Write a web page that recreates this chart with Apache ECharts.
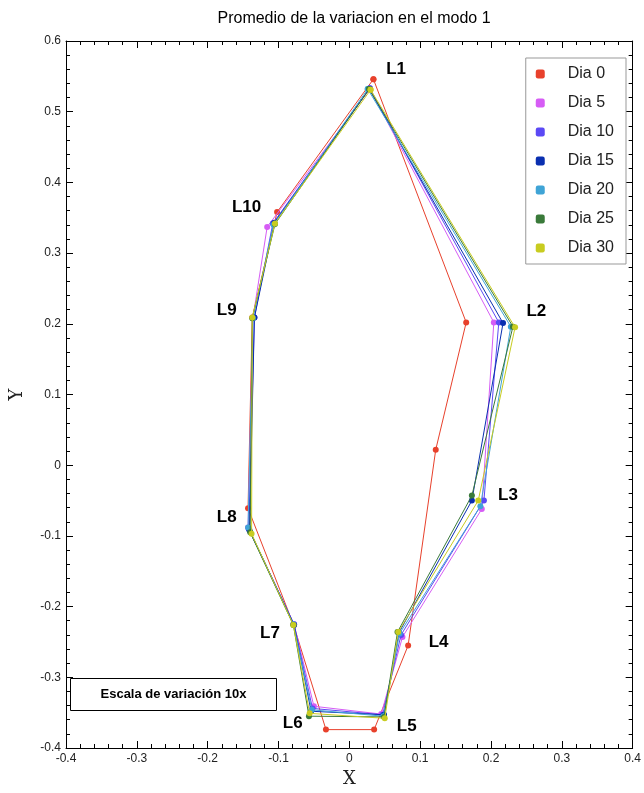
<!DOCTYPE html>
<html>
<head>
<meta charset="utf-8">
<script src="https://cdn.jsdelivr.net/npm/echarts@6/dist/echarts.min.js"></script>
<style>
html,body{margin:0;padding:0;background:#fff;}
#main{width:644px;height:793px;}
</style>
</head>
<body>
<div id="main"></div>
<script>
// puntos L1..L10 de cada dia (x, y)
var nombres = ['Dia 0', 'Dia 5', 'Dia 10', 'Dia 15', 'Dia 20', 'Dia 25', 'Dia 30'];
var colores = ['#e8412c', '#d65cf5', '#5b49f5', '#0a2fb0', '#3fa4d6', '#3a7a3a', '#c8cc20'];

var dia0  = [[0.034,0.546],[0.165,0.202],[0.122,0.022],[0.083,-0.255],[0.035,-0.374],[-0.033,-0.374],[-0.079,-0.225],[-0.143,-0.061],[-0.137,0.209],[-0.102,0.358]];
var dia5  = [[0.029,0.532],[0.204,0.202],[0.187,-0.062],[0.075,-0.243],[0.045,-0.352],[-0.050,-0.341],[-0.078,-0.225],[-0.143,-0.088],[-0.136,0.209],[-0.116,0.337]];
var dia10 = [[0.029,0.533],[0.211,0.202],[0.190,-0.050],[0.073,-0.240],[0.047,-0.353],[-0.052,-0.344],[-0.078,-0.225],[-0.142,-0.090],[-0.134,0.209],[-0.108,0.342]];
var dia15 = [[0.028,0.532],[0.217,0.201],[0.173,-0.050],[0.070,-0.237],[0.049,-0.353],[-0.054,-0.348],[-0.078,-0.226],[-0.141,-0.092],[-0.134,0.209],[-0.106,0.343]];
var dia20 = [[0.026,0.532],[0.228,0.196],[0.185,-0.058],[0.071,-0.238],[0.048,-0.355],[-0.053,-0.346],[-0.079,-0.225],[-0.143,-0.088],[-0.136,0.208],[-0.107,0.340]];
var dia25 = [[0.028,0.532],[0.231,0.196],[0.173,-0.043],[0.068,-0.236],[0.049,-0.356],[-0.057,-0.355],[-0.079,-0.226],[-0.140,-0.095],[-0.137,0.208],[-0.105,0.341]];
var dia30 = [[0.030,0.531],[0.234,0.195],[0.182,-0.050],[0.069,-0.236],[0.050,-0.358],[-0.056,-0.351],[-0.079,-0.226],[-0.138,-0.097],[-0.137,0.209],[-0.105,0.342]];
var dias = [dia0, dia5, dia10, dia15, dia20, dia25, dia30];

// etiquetas de los puntos
var etiquetas = ['L1','L2','L3','L4','L5','L6','L7','L8','L9','L10'];
var etiquetaPos = [[0.066,0.560],[0.264,0.217],[0.224,-0.043],[0.126,-0.250],[0.081,-0.370],[-0.080,-0.365],[-0.112,-0.238],[-0.173,-0.074],[-0.173,0.219],[-0.145,0.365]];

var myChart = echarts.init(document.getElementById('main'));

var ejeX = {
    type: 'value', min: -0.4, max: 0.4, interval: 0.1,
    axisLine: {show: true, onZero: false, lineStyle: {color: '#000', width: 1}},
    axisTick: {show: true, inside: true, length: 7, lineStyle: {color: '#000'}},
    minorTick: {show: true, splitNumber: 5, length: 4, lineStyle: {color: '#000'}},
    splitLine: {show: false},
    axisLabel: {color: '#222', fontSize: 12, fontFamily: 'Liberation Sans Narrow, Arial, sans-serif', margin: 5,
        formatter: function (v) { return Math.round(v * 10) / 10 + ''; }}
};
var ejeY = {
    type: 'value', min: -0.4, max: 0.6, interval: 0.1,
    axisLine: {show: true, onZero: false, lineStyle: {color: '#000', width: 1}},
    axisTick: {show: true, inside: true, length: 7, lineStyle: {color: '#000'}},
    minorTick: {show: true, splitNumber: 5, length: 4, lineStyle: {color: '#000'}},
    splitLine: {show: false},
    axisLabel: {color: '#222', fontSize: 12, fontFamily: 'Liberation Sans Narrow, Arial, sans-serif', margin: 5,
        formatter: function (v) { return Math.round(v * 10) / 10 + ''; }}
};

var series = [];
for (var i = 0; i < dias.length; i++) {
    var d = dias[i].slice();
    d.push(dias[i][0]); // cerrar el poligono
    series.push({
        name: nombres[i],
        type: 'line',
        data: d,
        symbol: 'circle',
        symbolSize: 6,
        showAllSymbol: true,
        itemStyle: {color: colores[i]},
        lineStyle: {color: colores[i], width: 1},
        z: 2 + i,
        animation: false
    });
}
series.push({
    type: 'scatter',
    symbolSize: 0,
    data: etiquetaPos.map(function (p, k) { return {value: p, name: etiquetas[k]}; }),
    label: {show: true, position: 'inside', formatter: '{b}', color: '#000',
        fontSize: 17, fontWeight: 'bold', fontFamily: 'Liberation Sans, Arial, sans-serif'},
    itemStyle: {opacity: 1},
    silent: true,
    z: 20,
    animation: false
});

var option = {
    backgroundColor: '#fff',
    title: {
        text: 'Promedio de la variacion en el modo 1',
        left: 349, top: 6, textAlign: 'center',
        textStyle: {fontSize: 16, fontWeight: 'normal', color: '#000', fontFamily: 'Liberation Sans, Arial, sans-serif'}
    },
    legend: {
        data: nombres,
        orient: 'vertical',
        right: 18, top: 58,
        itemWidth: 9, itemHeight: 9, itemGap: 13,
        icon: 'roundRect',
        padding: [8, 12, 8, 10],
        borderColor: '#999', borderWidth: 1,
        backgroundColor: '#fff',
        textStyle: {fontSize: 16, color: '#222', padding: [0, 0, 0, 18], fontFamily: 'Liberation Sans, Arial, sans-serif'}
    },
    grid: {left: 63, right: 7, top: 41, bottom: 40, containLabel: false},
    xAxis: [
        Object.assign({}, ejeX, {position: 'bottom', name: 'X', nameLocation: 'middle', nameGap: 22,
            nameTextStyle: {fontSize: 18, fontFamily: 'DejaVu Serif, serif', color: '#222'}}),
        Object.assign({}, ejeX, {position: 'top', axisLabel: {show: false}})
    ],
    yAxis: [
        Object.assign({}, ejeY, {position: 'left', name: 'Y', nameLocation: 'middle', nameGap: 40,
            nameTextStyle: {fontSize: 18, fontFamily: 'DejaVu Serif, serif', color: '#222'}}),
        Object.assign({}, ejeY, {position: 'right', axisLabel: {show: false}})
    ],
    graphic: [{
        type: 'group', left: 70, top: 678,
        children: [
            {type: 'rect', shape: {x: 0, y: 0, width: 206, height: 32}, style: {fill: '#fff', stroke: '#000', lineWidth: 1}},
            {type: 'text', x: 103, y: 16, style: {text: 'Escala de variación 10x', align: 'center', verticalAlign: 'middle',
                fill: '#000', fontSize: 13, fontWeight: 'bold', fontFamily: 'Liberation Sans, Arial, sans-serif'}}
        ]
    }],
    series: series
};
myChart.setOption(option);
</script>
</body>
</html>
